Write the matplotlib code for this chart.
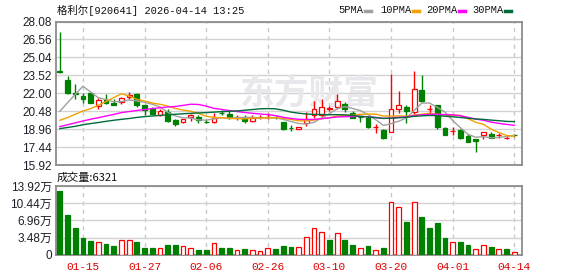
import numpy as np
import pandas as pd
import matplotlib
matplotlib.use('Agg')
import matplotlib.pyplot as plt
from matplotlib.lines import Line2D

# daily candles, index 0 = 2026-01-12
opens = [23.86, 23.09, 22.00, 21.77, 21.99, 20.92, 21.40, 21.20, 21.26, 21.65,
         21.91, 20.98, 20.70, 20.16, 20.41, 19.75, 19.60, 20.00, 20.02, 19.58,
         19.60, 20.32, 20.22, 19.98, 19.94, 19.65, 20.00, 20.00, 20.00, 19.57,
         19.08, 19.00, 19.46, 20.19, 20.19, 20.64, 20.86, 21.12, 20.30, 19.98,
         19.94, 19.15, 18.90, 18.75, 20.64, 20.86, 20.41, 22.27, 20.68, 20.98,
         19.09, 18.78, 18.87, 18.39, 18.16, 18.44, 18.53, 18.46, 18.20, 18.44]
highs = [27.15, 23.46, 22.75, 22.05, 22.05, 21.63, 21.91, 21.48, 21.65, 22.10,
         22.00, 21.00, 20.86, 20.70, 20.70, 19.80, 19.82, 20.22, 20.13, 19.80,
         20.36, 20.58, 20.50, 20.13, 20.13, 20.13, 20.13, 20.30, 20.08, 19.57,
         19.34, 19.18, 20.41, 21.34, 21.48, 20.92, 21.91, 21.26, 20.50, 20.08,
         20.08, 19.37, 18.95, 23.65, 22.19, 20.98, 23.90, 23.51, 20.98, 20.98,
         19.17, 19.17, 19.00, 18.53, 18.16, 18.75, 18.73, 18.67, 18.39, 18.53]
lows = [23.71, 21.97, 21.48, 21.20, 21.18, 20.64, 21.12, 21.00, 21.06, 21.54,
        20.86, 20.13, 20.20, 20.08, 19.60, 19.24, 19.46, 19.65, 19.51, 19.50,
        19.51, 20.13, 19.86, 19.74, 19.51, 19.57, 19.85, 19.80, 19.80, 18.86,
        18.78, 18.98, 19.23, 19.94, 19.94, 20.50, 20.70, 20.41, 19.90, 19.57,
        19.09, 18.67, 18.10, 18.73, 20.36, 19.51, 20.22, 21.30, 20.13, 18.95,
        18.45, 18.47, 18.10, 17.88, 17.03, 18.16, 18.22, 18.25, 18.10, 18.30]
closes = [23.82, 21.99, 21.97, 21.54, 21.20, 21.40, 21.20, 21.03, 21.63, 21.88,
          20.98, 20.62, 20.22, 20.50, 19.65, 19.41, 19.80, 20.13, 19.71, 19.55,
          19.94, 20.30, 19.88, 20.00, 19.65, 19.94, 20.02, 20.02, 19.98, 18.95,
          19.05, 19.18, 19.80, 20.70, 20.86, 20.78, 21.34, 20.64, 19.94, 19.96,
          19.10, 19.18, 18.19, 20.70, 20.98, 20.50, 22.33, 21.34, 20.70, 19.17,
          18.47, 18.81, 18.25, 17.88, 17.94, 18.75, 18.25, 18.47, 18.24, 18.43]
volumes = [129000, 80700, 54500, 34300, 28200, 26200, 22200, 18200, 30300, 30300,
           26200, 14100, 14100, 14100, 20200, 20200, 18200, 14100, 10100, 10100,
           22900, 14100, 14100, 10100, 12100, 10100, 8100, 14100, 12100, 18200,
           16100, 16100, 36300, 54500, 46400, 30300, 44400, 30300, 20200, 14100,
           18200, 10100, 14100, 106900, 96800, 66600, 106900, 76700, 54500, 64600,
           34300, 26200, 26200, 20200, 12100, 20200, 16100, 12100, 12100, 6321]
vol_up = [0, 0, 0, 0, 0, 1, 0, 0, 1, 1, 0, 0, 0, 1, 0, 0, 1, 1, 0, 0,
          1, 0, 0, 1, 0, 1, 1, 1, 0, 0, 0, 1, 1, 1, 1, 0, 1, 0, 0, 1,
          0, 1, 0, 1, 1, 0, 1, 0, 0, 0, 0, 1, 0, 0, 1, 1, 0, 1, 0, 1]

# moving-average values before each window fills (older history not on chart)
ma5_head = [20.47, 21.20, 21.90, 22.60]
ma10_head = [19.71, 19.94, 20.22, 20.50, 20.70, 20.98, 21.29, 21.63, 21.96]
ma20_head = [19.17, 19.33, 19.49, 19.65, 19.80, 19.93, 20.07, 20.21, 20.36, 20.45,
             20.54, 20.62, 20.70, 20.77, 20.84, 20.88, 20.97, 21.07, 21.05]
ma30_head = [19.00, 19.10, 19.20, 19.33, 19.43, 19.52, 19.62, 19.71, 19.79, 19.86,
             19.95, 20.02, 20.07, 20.12, 20.17, 20.22, 20.26, 20.30, 20.33, 20.36,
             20.40, 20.44, 20.47, 20.50, 20.56, 20.62, 20.68, 20.70, 20.68]

tick_labels = ['01-15', '01-27', '02-06', '02-26', '03-10', '03-20', '04-01', '04-14']
price_ticks = [15.92, 17.44, 18.96, 20.48, 22.00, 23.52, 25.04, 26.56, 28.08]
vol_ticks = [0, 34800, 69600, 104400, 139200]
vol_tick_labels = ['0', '3.48万', '6.96万', '10.44万', '13.92万']

days = pd.bdate_range('2026-01-12', '2026-04-14')
closed = pd.to_datetime(['2026-02-16', '2026-02-17', '2026-02-18', '2026-02-19',
                         '2026-02-20', '2026-02-23', '2026-04-06'])
dates = list(days[~days.isin(closed)].strftime('%m-%d'))

RED = '#FF0000'
GREEN = '#008000'
W, H = 578, 276

o, h, l, c = (np.array(a) for a in (opens, highs, lows, closes))
x = np.arange(len(c))
up = c >= o
cols = np.where(up, RED, GREEN)

s = pd.Series(closes)


def ma(n, head):
    m = s.rolling(n).mean().to_numpy()
    m[:n - 1] = head
    return m


fig = plt.figure(figsize=(W / 100, H / 100), dpi=100)
ax = fig.add_axes([56 / W, 1 - 165 / H, 466.3 / W, 143.5 / H])
axv = fig.add_axes([56 / W, 1 - 254.7 / H, 466.3 / W, 68.7 / H])

tick_pos = [dates.index(t) for t in tick_labels]

for a in (ax, axv):
    a.set_xlim(-0.5, 60.04)
    a.set_xticks(tick_pos)
    a.set_axisbelow(True)
    a.grid(axis='y', color='#D2D2D2', lw=1, ls='-')
    a.grid(axis='x', color='#C8C8C8', lw=1, ls=(0, (3, 3)))
    for sp in a.spines.values():
        sp.set_color('#8C8C8C')
        sp.set_linewidth(1.3)
    a.tick_params(length=0, labelsize=8.5, colors='#1E1E28')

# watermark
ax.text(240 / W, 1 - 93 / H, '东方财富', transform=fig.transFigure,
        family='Noto Sans CJK SC', weight='bold', size=25, color='#E8E8EC',
        va='center', ha='left', zorder=1)

# candles
ax.vlines(x, l, h, colors=cols, lw=1, zorder=3)
ax.bar(x, np.maximum(np.abs(c - o), 0.02), bottom=np.minimum(o, c), width=0.62,
       color=np.where(up, 'white', GREEN), edgecolor=cols, linewidth=0.9, zorder=4)

ma_cols = ['#A0A0A0', '#F2A100', '#FF00FF', '#006B3C']
for (n, head), col in zip([(5, ma5_head), (10, ma10_head), (20, ma20_head), (30, ma30_head)], ma_cols):
    ax.plot(x, ma(n, head), color=col, lw=1, zorder=5)

ax.set_ylim(15.92, 28.08)
ax.set_yticks(price_ticks)
ax.set_yticklabels(['%.2f' % v for v in price_ticks], family='Liberation Sans')
ax.tick_params(axis='y', pad=3)
ax.set_xticklabels([])

# volume
vu = np.array(vol_up) == 1
axv.bar(x, volumes, width=0.62, color=np.where(vu, 'white', GREEN),
        edgecolor=np.where(vu, RED, GREEN), linewidth=0.9, zorder=3)
axv.set_ylim(0, 139200)
axv.set_yticks(vol_ticks)
axv.set_yticklabels(vol_tick_labels, family=['Liberation Sans', 'Noto Sans CJK SC'])
axv.tick_params(axis='y', pad=3)
axv.set_xticklabels(tick_labels, family='Liberation Mono', size=8, color='#E00000')
axv.tick_params(axis='x', pad=5)

# header texts
mono = ['Liberation Mono', 'Noto Sans CJK SC']
fig.text(57 / W, 1 - 10 / H, '格利尔[920641] 2026-04-14 13:25', family=mono,
         size=7.5, va='center', color='#111111')
fig.text(57 / W, 1 - 177.5 / H, '成交量:%d' % volumes[-1], family=['Noto Sans CJK SC'],
         size=8, va='center', color='#111111')

legend = [('5PMA', 338, 365), ('10PMA', 380, 413), ('20PMA', 426, 459), ('30PMA', 472, 505)]
for (name, tx, lx), col in zip(legend, ma_cols):
    fig.text(tx / W, 1 - 10 / H, name, family='Liberation Mono', size=7.5,
             va='center', color='#111111')
    fig.add_artist(Line2D([lx / W, (lx + 6) / W], [1 - 10.5 / H, 1 - 10.5 / H],
                          color=col, lw=2.5, transform=fig.transFigure))

fig.savefig('out.png', dpi=100)
